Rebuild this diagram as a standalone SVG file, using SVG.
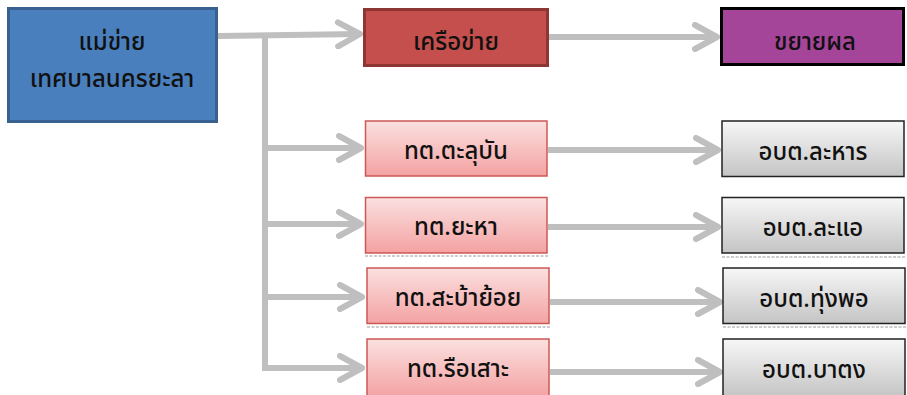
<svg xmlns="http://www.w3.org/2000/svg" width="907" height="395" viewBox="0 0 907 395">
<defs>
<linearGradient id="gPink" x1="0" y1="0" x2="0" y2="1">
<stop offset="0" stop-color="#fbe0e0"/>
<stop offset="1" stop-color="#f4a2a2"/>
</linearGradient>
<linearGradient id="gGray" x1="0" y1="0" x2="0" y2="1">
<stop offset="0" stop-color="#f7f7f7"/>
<stop offset="1" stop-color="#c4c4c4"/>
</linearGradient>
<marker id="arr" viewBox="0 0 30 30" refX="26" refY="15" markerWidth="30" markerHeight="30" markerUnits="userSpaceOnUse" orient="auto">
<path d="M4,3 L26,15 L4,27" fill="none" stroke="#bfbfbf" stroke-width="6" stroke-linecap="round" stroke-linejoin="round"/>
</marker>
</defs>
<style>
.t{font-family:"Noto Sans Thai","Noto Sans","DejaVu Sans",sans-serif;font-size:24px;font-weight:500;fill:#111;text-anchor:middle}
.c{fill:none;stroke:#bfbfbf;stroke-width:6}
.pink{fill:url(#gPink);stroke:#cc5855;stroke-width:1.5}
.gray{fill:url(#gGray);stroke:#222;stroke-width:1.5}
.dash{stroke:#999;stroke-width:1;stroke-dasharray:3,1.5}
</style>
<g id="connectors">
<path class="c" d="M218,36 L360,34" marker-end="url(#arr)"/>
<path class="c" d="M265,36 L265,368"/>
<path class="c" d="M262,148 L361,148" marker-end="url(#arr)"/>
<path class="c" d="M262,224 L361,224" marker-end="url(#arr)"/>
<path class="c" d="M262,297 L362,297" marker-end="url(#arr)"/>
<path class="c" d="M262,368 L362,368" marker-end="url(#arr)"/>
<path class="c" d="M549,37 L717,37" marker-end="url(#arr)"/>
<path class="c" d="M548,150 L718,150" marker-end="url(#arr)"/>
<path class="c" d="M548,227 L718,227" marker-end="url(#arr)"/>
<path class="c" d="M550,302 L720,302" marker-end="url(#arr)"/>
<path class="c" d="M550,372 L720,372" marker-end="url(#arr)"/>
</g>
<g id="n-main">
<rect x="8.5" y="8.5" width="208" height="113" fill="#4a7fbd" stroke="#386190" stroke-width="3"/>
<text class="t" x="112" y="50">แม่ข่าย</text>
<text class="t" x="112" y="87">เทศบาลนครยะลา</text>
</g>
<g id="n-network">
<rect x="364.5" y="9.5" width="183" height="56" fill="#c44f4c" stroke="#8d3634" stroke-width="3"/>
<text class="t" x="456" y="50">เครือข่าย</text>
</g>
<g id="n-expand">
<rect x="721.5" y="8.5" width="182" height="56" fill="#a5459a" stroke="#000" stroke-width="3"/>
<text class="t" x="815" y="50" font-weight="bold">ขยายผล</text>
</g>
<g id="n-taluban">
<rect class="pink" x="365.5" y="121" width="181.5" height="55"/>
<text class="t" x="456" y="159">ทต.ตะลุบัน</text>
</g>
<g id="n-yaha">
<rect class="pink" x="365.5" y="197.5" width="181.5" height="55.5"/>
<line class="dash" x1="365" y1="256" x2="548" y2="256"/>
<text class="t" x="456" y="235">ทต.ยะหา</text>
</g>
<g id="n-sabayoi">
<rect class="pink" x="367" y="268" width="182" height="55.5"/>
<line class="dash" x1="367" y1="327" x2="550" y2="327"/>
<text class="t" x="458" y="306">ทต.สะบ้าย้อย</text>
</g>
<g id="n-rueso">
<rect class="pink" x="367" y="339" width="182" height="58"/>
<text class="t" x="458" y="377">ทต.รือเสาะ</text>
</g>
<g id="n-lahan">
<rect class="gray" x="722" y="121" width="182" height="55.5"/>
<text class="t" x="813" y="160">อบต.ละหาร</text>
</g>
<g id="n-la-ae">
<rect class="gray" x="722" y="197.5" width="182" height="55.5"/>
<line class="dash" x1="722" y1="257" x2="905" y2="257"/>
<text class="t" x="813" y="236">อบต.ละแอ</text>
</g>
<g id="n-thungpho">
<rect class="gray" x="723" y="268" width="182" height="55.5"/>
<line class="dash" x1="723" y1="327" x2="906" y2="327"/>
<text class="t" x="814" y="307">อบต.ทุ่งพอ</text>
</g>
<g id="n-batong">
<rect class="gray" x="723" y="339" width="182" height="58"/>
<text class="t" x="814" y="378">อบต.บาตง</text>
</g>
</svg>
